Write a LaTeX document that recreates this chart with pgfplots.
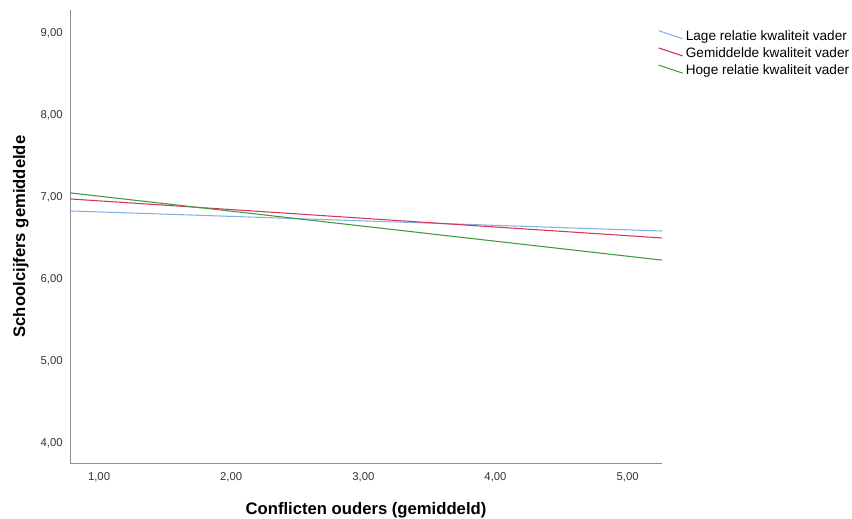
\documentclass[border=0pt]{standalone}
\usepackage{pgfplots}
\pgfplotsset{compat=1.18}
\usepackage{fontspec}
\setmainfont{Liberation Sans}
\definecolor{lage}{RGB}{130,178,236}
\definecolor{gem}{RGB}{218,52,90}
\definecolor{hoog}{RGB}{62,154,62}
\definecolor{axgrey}{RGB}{140,140,140}
\begin{document}
\begin{tikzpicture}[x=0.75pt,y=0.75pt]
\useasboundingbox (-70,-55) rectangle (782,463);
\begin{axis}[
  at={(0,0)}, anchor=south west,
  scale only axis, width=444pt, height=339.75pt,
  xmin=0.78, xmax=5.26, ymin=3.756, ymax=9.28,
  axis x line=bottom, axis y line=left,
  axis line style={axgrey, -}, 
  xtick={1,2,3,4,5}, ytick={4,5,6,7,8,9},
  major tick length=0pt,
  tick label style={font=\fontsize{8.5}{10}\selectfont, text=black!80},
  /pgf/number format/.cd, fixed, fixed zerofill, precision=2, use comma, assume math mode=true,
  /pgfplots/.cd,
  xticklabel style={yshift=-4pt},
  yticklabel style={xshift=-2pt},
  xlabel={\textbf{Conflicten ouders (gemiddeld)}},
  ylabel={\textbf{Schoolcijfers gemiddelde}},
  label style={font=\fontsize{12.5}{14}\selectfont},
  xlabel style={yshift=-8pt},
  ylabel style={yshift=2pt},
  clip=false,
  legend style={draw=none, fill=none, at={(0.993,0.962)}, anchor=north west,
    font=\fontsize{10.2}{12}\selectfont, row sep=0pt, inner sep=0pt,
    /tikz/every even column/.append style={column sep=2pt}},
  legend cell align=left,
  legend image code/.code={\draw[#1] (0pt,4pt) -- (18pt,-2pt);},
]
\addplot[lage, line width=0.8pt] coordinates {(0.78,6.83) (5.26,6.585)};
\addlegendentry{Lage relatie kwaliteit vader}
\addplot[gem, line width=0.8pt] coordinates {(0.78,6.976) (5.26,6.50)};
\addlegendentry{Gemiddelde kwaliteit vader}
\addplot[hoog, line width=0.8pt] coordinates {(0.78,7.05) (5.26,6.23)};
\addlegendentry{Hoge relatie kwaliteit vader}
\end{axis}
\end{tikzpicture}
\end{document}
